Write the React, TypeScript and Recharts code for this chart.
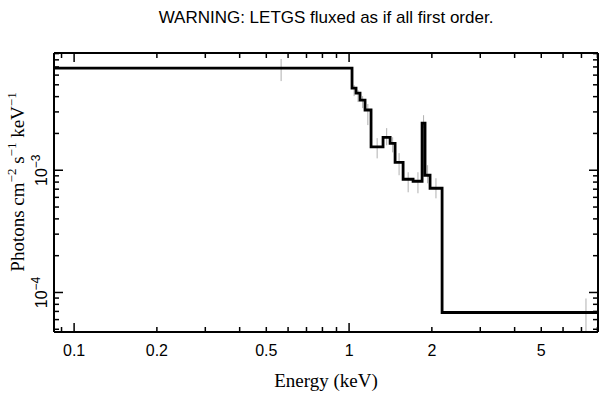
import { ComposedChart, Line, Scatter, ErrorBar, XAxis, YAxis } from "recharts";

// histogram bins: left edge (keV) and flux (photons cm^-2 s^-1 keV^-1)
const binLo = [0.0845, 1.025, 1.06, 1.096, 1.143, 1.202, 1.329, 1.41, 1.47, 1.572, 1.709, 1.843, 1.889, 1.97, 2.179];
const flux = [6.85e-3, 4.7e-3, 4.27e-3, 3.75e-3, 3.11e-3, 1.55e-3, 1.86e-3, 1.66e-3, 1.16e-3, 8.44e-4, 8.13e-4, 2.43e-3, 9.1e-4, 7.12e-4, 6.86e-5];
const lastEdge = 8.04;

// error bars (bin centre, lower, upper)
const errE = [0.566, 1.043, 1.078, 1.12, 1.17, 1.265, 1.37, 1.44, 1.52, 1.64, 1.78, 1.866, 1.93, 2.07, 7.27];
const errLo = [5.36e-3, 4.04e-3, 3.61e-3, 3.22e-3, 2.34e-3, 1.25e-3, 1.6e-3, 1.4e-3, 9.1e-4, 6.6e-4, 6.48e-4, 2.21e-3, 7.82e-4, 5.89e-4, 4.75e-5];
const errHi = [8.13e-3, 4.97e-3, 4.52e-3, 4.04e-3, 3.48e-3, 1.83e-3, 2.21e-3, 1.86e-3, 1.38e-3, 9.63e-4, 9.63e-4, 2.82e-3, 1.1e-3, 8.6e-4, 8.93e-5];

const xTicks = [0.09, 0.1, 0.2, 0.3, 0.4, 0.5, 0.6, 0.7, 0.8, 0.9, 1, 2, 3, 4, 5, 6, 7, 8];
const xLabels = [0.1, 0.2, 0.5, 1, 2, 5];
const xMajor = [0.1, 1];
const yTicks = [5e-5, 6e-5, 7e-5, 8e-5, 9e-5, 1e-4, 2e-4, 3e-4, 4e-4, 5e-4, 6e-4, 7e-4, 8e-4, 9e-4, 1e-3, 2e-3, 3e-3, 4e-3, 5e-3, 6e-3, 7e-3, 8e-3, 9e-3];
const yLabels: [number, string][] = [[1e-4, "−4"], [1e-3, "−3"]];
const yMajor = [1e-4, 1e-3];

const xDomain = [0.0845, 8.04];
const yDomain = [4.75e-5, 9.1e-3];

const lineData = [...binLo.map((e, i) => ({ e, f: flux[i] })), { e: lastEdge, f: flux[flux.length - 1] }];
const errData = errE.map((e, i) => ({ e, f: errLo[i], err: [0, errHi[i] - errLo[i]] }));

const sans = "'Liberation Sans', Arial, sans-serif";
const serif = "'Liberation Serif', 'Times New Roman', serif";

const isIn = (arr: number[], v: number) => arr.some((a) => Math.abs(a - v) < 1e-9 * Math.max(1, a));

function XTick(props: any) {
  const { x, y, payload, side } = props;
  const v = payload.value;
  const len = isIn(xMajor, v) ? 9 : 5;
  const dir = side === "top" ? 1 : -1;
  return (
    <g>
      <line x1={x} x2={x} y1={y} y2={y + dir * len} stroke="#000" strokeWidth={1.5} />
      {side !== "top" && isIn(xLabels, v) && (
        <text x={x} y={y + 24} textAnchor="middle" fontFamily={sans} fontSize={16} fill="#000">
          {String(v)}
        </text>
      )}
    </g>
  );
}

function YTick(props: any) {
  const { x, y, payload, side } = props;
  const v = payload.value;
  const len = yMajor.some((m) => Math.abs(m - v) < 1e-12) ? 9 : 5;
  const dir = side === "right" ? -1 : 1;
  const lab = yLabels.find((l) => Math.abs(l[0] - v) < 1e-12);
  return (
    <g>
      <line x1={x} x2={x + dir * len} y1={y} y2={y} stroke="#000" strokeWidth={1.5} />
      {side !== "right" && lab && (
        <text
          x={x - 7}
          y={y}
          transform={`rotate(-90, ${x - 7}, ${y})`}
          textAnchor="middle"
          fontFamily={sans}
          fontSize={16}
          fill="#000"
        >
          10
          <tspan dy={-7} fontSize={12}>
            {lab[1]}
          </tspan>
        </text>
      )}
    </g>
  );
}

export default function App() {
  return (
    <div style={{ position: "absolute", left: 0, top: 0, width: 609, height: 399, background: "#fff" }}>
      <div
        style={{
          position: "absolute",
          top: 8,
          left: 0,
          width: 652,
          textAlign: "center",
          fontFamily: sans,
          fontSize: 17,
          color: "#000",
        }}
      >
        WARNING: LETGS fluxed as if all first order.
      </div>
      <ComposedChart width={609} height={399} margin={{ top: 52, right: 10, bottom: 0, left: 0 }}>
        <XAxis
          xAxisId={0}
          dataKey="e"
          type="number"
          scale="log"
          domain={xDomain}
          allowDataOverflow
          ticks={xTicks}
          interval={0}
          height={67}
          tickSize={0}
          tickMargin={0}
          axisLine={{ stroke: "#000", strokeWidth: 2 }}
          tick={<XTick side="bottom" />}
          label={{
            content: () => (
              <text x={326} y={387} textAnchor="middle" fontFamily={serif} fontSize={19} fill="#000">
                Energy (keV)
              </text>
            ),
          }}
        />
        <XAxis
          xAxisId="top"
          orientation="top"
          dataKey="e"
          type="number"
          scale="log"
          domain={xDomain}
          allowDataOverflow
          ticks={xTicks}
          interval={0}
          height={1}
          tickSize={0}
          tickMargin={0}
          axisLine={{ stroke: "#000", strokeWidth: 2 }}
          tick={<XTick side="top" />}
        />
        <YAxis
          yAxisId={0}
          dataKey="f"
          type="number"
          scale="log"
          domain={yDomain}
          allowDataOverflow
          ticks={yTicks}
          interval={0}
          width={54}
          tickSize={0}
          tickMargin={0}
          axisLine={{ stroke: "#000", strokeWidth: 2 }}
          tick={<YTick side="left" />}
          label={{
            content: () => (
              <text
                x={24}
                y={182}
                transform="rotate(-90, 24, 182)"
                textAnchor="middle"
                fontFamily={serif}
                fontSize={19}
                fill="#000"
              >
                Photons cm
                <tspan dy={-8} fontSize={13}>−2</tspan>
                <tspan dy={8}> s</tspan>
                <tspan dy={-8} fontSize={13}>−1</tspan>
                <tspan dy={8}> keV</tspan>
                <tspan dy={-8} fontSize={13}>−1</tspan>
              </text>
            ),
          }}
        />
        <YAxis
          yAxisId="right"
          orientation="right"
          dataKey="f"
          type="number"
          scale="log"
          domain={yDomain}
          allowDataOverflow
          ticks={yTicks}
          interval={0}
          width={1}
          tickSize={0}
          tickMargin={0}
          axisLine={{ stroke: "#000", strokeWidth: 2 }}
          tick={<YTick side="right" />}
        />
        <Scatter
          data={errData}
          dataKey="f"
          xAxisId={0}
          yAxisId={0}
          shape={() => null}
          isAnimationActive={false}
        >
          <ErrorBar dataKey="err" direction="y" width={0} stroke="#b0b0b0" strokeWidth={1} isAnimationActive={false} />
        </Scatter>
        <Line
          data={lineData}
          dataKey="f"
          xAxisId="top"
          yAxisId="right"
          stroke="none"
          dot={false}
          legendType="none"
          isAnimationActive={false}
        />
        <Line
          data={lineData}
          dataKey="f"
          xAxisId={0}
          yAxisId={0}
          type="stepAfter"
          stroke="#000"
          strokeWidth={2.8}
          dot={false}
          isAnimationActive={false}
        />
      </ComposedChart>
    </div>
  );
}
